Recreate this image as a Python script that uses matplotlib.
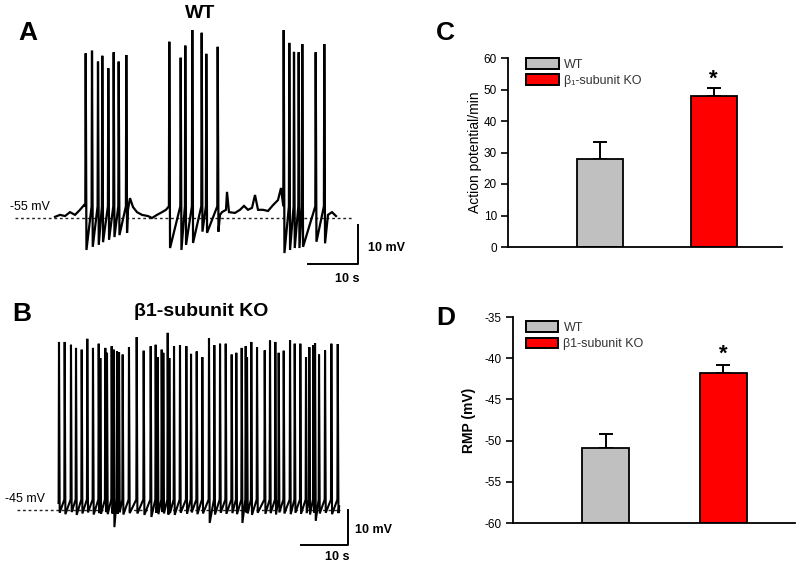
"""WT vs beta1-subunit KO: spontaneous firing traces + summary bars."""
import matplotlib
matplotlib.use("Agg")
import matplotlib.pyplot as plt
from matplotlib.patches import Patch

plt.rcParams["font.family"] = ["Liberation Sans", "DejaVu Sans"]
plt.rcParams["axes.unicode_minus"] = False

# ---- A: WT trace (s, mV) ----
wt_spike_t = [5.74, 7.0, 8.2, 9.06, 10.26, 11.34, 12.34, 13.86,
              22.46, 24.74, 25.66, 27.06, 28.94, 29.86, 32.14,
              45.34, 46.46, 47.4, 48.34, 49.06, 51.74, 53.46]
wt_spike_peak = [-12.8, -12.1, -14.9, -13.4, -16.6, -12.5, -14.9, -13.2,
                 -9.8, -13.9, -10.8, -6.8, -7.5, -12.9, -11.1,
                 -6.8, -10.1, -12.4, -12.5, -10.4, -12.5, -10.4]
wt_spike_trough = [-63.2, -62.4, -61.9, -61.2, -60.6, -59.9, -59.4, -58.8,
                   -62.7, -63.2, -61.9, -61.4, -58.5, -58.8, -58.5,
                   -64.0, -63.2, -62.7, -62.7, -62.4, -61.1, -61.5]
wt_threshold = -52.0
wt_base_t = [-0.4, 0.6, 1.6, 2.6, 3.6, 4.6, 5.4,
             14.2, 14.6, 15.2, 16.0, 17.0, 18.2, 19.0, 20.0, 21.0, 21.8,
             32.6, 33.0, 33.8, 34.0, 34.4, 35.6, 36.6, 37.4, 38.2, 39.0,
             39.6, 40.2, 41.2, 42.2, 43.2, 44.2, 44.8,
             54.2, 55.0, 55.8]
wt_base_v = [-54.7, -54.2, -54.5, -53.5, -54.2, -52.9, -51.7,
             -52.9, -49.9, -52.2, -53.5, -54.2, -54.5, -55.0, -54.2, -53.5, -52.9,
             -54.2, -53.5, -52.9, -48.3, -53.5, -53.7, -52.9, -51.9, -52.9, -52.4,
             -49.1, -52.9, -52.9, -53.2, -51.7, -50.4, -47.3,
             -54.2, -53.5, -54.5]

# ---- B: KO trace (s, mV) ----
ko_spike_t = [0.00, 1.21, 2.55, 3.62, 4.83, 6.02, 7.23, 8.45, 8.79, 9.85,
              10.21, 11.21, 11.64, 12.34, 12.77, 13.55, 14.89, 16.53, 18.02, 19.51,
              20.57, 21.00, 21.85, 22.19, 23.13, 23.47, 24.47, 25.74, 27.09, 28.09,
              29.30, 30.49, 31.91, 33.04, 34.26, 35.47, 36.74, 37.72, 38.87, 39.72,
              40.00, 40.91, 42.13, 43.77, 44.89, 46.02, 46.74, 47.81, 49.15, 50.15,
              51.34, 52.55, 53.26, 54.11, 54.47, 55.32, 56.60, 57.94, 59.30]
ko_spike_peak = [3.0, 3.0, 2.2, 1.3, 0.8, 3.9, 1.3, 2.5, -1.6, 1.3,
                 -0.1, 1.8, 0.8, 0.3, 0.1, -0.6, 1.5, 4.4, 0.5, 1.8,
                 2.2, -1.4, 0.8, -0.1, 5.6, -1.6, 1.8, 2.1, 1.8, -0.4,
                 0.3, -1.3, 4.1, 2.1, 2.5, 2.5, -0.6, -0.1, 1.3, 1.8,
                 -1.4, 3.0, 1.5, 0.6, 3.4, 3.0, -0.1, 0.5, 3.5, 2.5,
                 2.5, -1.3, 1.5, 2.1, 2.7, -0.6, 0.6, 2.5, 2.4]
ko_spike_trough = [-45.8, -46.2, -45.6, -46.4, -46.0, -45.7, -46.3, -45.9, -46.1, -45.6,
                   -46.2, -46.0, -49.9, -46.1, -45.7, -46.3, -45.9, -46.0, -46.4, -47.0,
                   -45.8, -46.2, -45.6, -46.0, -46.3, -45.9, -46.4, -45.8, -46.1, -45.7,
                   -46.2, -46.0, -48.7, -46.3, -45.8, -46.1, -45.9, -46.2, -48.7, -45.7,
                   -46.0, -46.4, -45.8, -46.1, -45.9, -46.3, -45.7, -46.0, -46.2, -45.8,
                   -46.1, -45.9, -46.3, -45.7, -48.1, -46.0, -45.8, -46.2, -45.9]
ko_threshold = -42.0
ko_base_t = [-0.1, 59.6]
ko_base_v = [-43.0, -44.0]

# ---- C / D: summary bars ----
groups = ["WT", "β\u2081-subunit KO"]
groups_d = ["WT", "β1-subunit KO"]
bar_colors = ["#c0c0c0", "#ff0000"]
ap_mean = [27.8, 47.8]
ap_sem = [5.6, 2.7]
rmp_mean = [-50.9, -41.8]
rmp_sem = [1.7, 1.0]

W, H = 800, 566
fig = plt.figure(figsize=(8, 5.66), dpi=100)


def build_trace(base_t, base_v, spk_t, spk_peak, spk_trough, thr):
    pts = list(zip(base_t, base_v))
    for t, p, tr in zip(spk_t, spk_peak, spk_trough):
        pts += [(t - 0.08, thr), (t, p), (t + 0.15, tr)]
    pts.sort()
    return [p[0] for p in pts], [p[1] for p in pts]


def trace_panel(rect, xlim, ylim, t, v, rest, dash_x, label_xy, bar, lw):
    ax = fig.add_axes(rect)
    ax.set_xlim(*xlim)
    ax.set_ylim(*ylim)
    ax.axis("off")
    ax.plot(dash_x, [rest, rest], ls=(0, (2, 2)), lw=1.0, color="#222222")
    ax.plot(t, v, color="black", lw=lw, solid_joinstyle="miter")
    ax.text(*label_xy, f"{rest} mV", fontsize=9, ha="left", va="center")
    bx0, bx1, by0, by1 = bar
    ax.plot([bx0, bx1, bx1], [by0, by0, by1], color="black", lw=1.4,
            clip_on=False)
    return ax


# A
t, v = build_trace(wt_base_t, wt_base_v, wt_spike_t, wt_spike_peak,
                   wt_spike_trough, wt_threshold)
axA = trace_panel([0, 1 - 280 / H, 420 / W, 280 / H], (-11.4, 72.6), (-70.9, 0.9),
                  t, v, -55, [-8.4, 59.0], (-9.4, -52.2), (50.2, 60.2, -66.8, -56.8), 1.6)
axA.text(62.2, -62.7, "10 mV", fontsize=9, fontweight="bold", va="center")
axA.text(58.0, -70.6, "10 s", fontsize=9, fontweight="bold", ha="center",
         va="center", clip_on=False)

# B
t, v = build_trace(ko_base_t, ko_base_v, ko_spike_t, ko_spike_peak,
                   ko_spike_trough, ko_threshold)
axB = trace_panel([0, 0, 420 / W, 286 / H], (-12.55, 76.8), (-61.0, 20.7),
                  t, v, -45, [-8.94, 59.8], (-11.5, -41.9), (51.5, 61.5, -55.0, -45.0), 1.5)
axB.text(63.0, -50.7, "10 mV", fontsize=9, fontweight="bold", va="center")
axB.text(59.1, -58.4, "10 s", fontsize=9, fontweight="bold", ha="center",
         va="center")

fig.text(28 / W, 1 - 33 / H, "A", fontsize=19, fontweight="bold", ha="center", va="center")
fig.text(200 / W, 1 - 14 / H, "WT", fontsize=14, fontweight="bold", ha="center", va="center")
fig.text(22 / W, 1 - 314 / H, "B", fontsize=19, fontweight="bold", ha="center", va="center")
fig.text(201 / W, 1 - 312 / H, "β1-subunit KO", fontsize=14, fontweight="bold",
         ha="center", va="center")
fig.text(445 / W, 1 - 33 / H, "C", fontsize=19, fontweight="bold", ha="center", va="center")
fig.text(446 / W, 1 - 318 / H, "D", fontsize=19, fontweight="bold", ha="center", va="center")


def bar_panel(rect, xlim, ylim, ticks, mean, sem, names, ylabel, ylab_weight,
              ylab_pad, legend_anchor, star_y):
    ax = fig.add_axes(rect)
    x = [1, 2]
    lo = ylim[0]
    ax.bar(x, [m - lo for m in mean], 0.4, bottom=lo, color=bar_colors,
           edgecolor="black", linewidth=1.3, zorder=2)
    ax.errorbar(x, mean, yerr=[[0, 0], sem], fmt="none", ecolor="black",
                elinewidth=1.4, capsize=5, capthick=1.4, zorder=1)
    ax.set_xlim(*xlim)
    ax.set_ylim(*ylim)
    ax.set_yticks(ticks)
    ax.set_xticks([])
    for s in ("top", "right"):
        ax.spines[s].set_visible(False)
    ax.spines["left"].set_linewidth(1.3)
    ax.spines["bottom"].set_linewidth(1.3)
    ax.tick_params(axis="y", direction="out", length=5, width=1.2,
                   labelsize=8.5, pad=3)
    ax.set_ylabel(ylabel, fontsize=10, fontweight=ylab_weight, labelpad=ylab_pad)
    ax.text(2, star_y, "*", fontsize=16, fontweight="bold", ha="center",
            va="center")
    handles = [Patch(facecolor=c, edgecolor="black", linewidth=1.4)
               for c in bar_colors]
    leg = ax.legend(handles, names, loc="upper left", bbox_to_anchor=legend_anchor,
                    frameon=False, fontsize=9, handlelength=2.6, handleheight=0.95,
                    handletextpad=0.4, labelspacing=0.3, borderpad=0,
                    borderaxespad=0)
    for txt in leg.get_texts():
        txt.set_color("#333333")
    return ax


bar_panel([508 / W, 1 - 247 / H, 274 / W, 189 / H], (0.19, 2.60), (0, 60),
          range(0, 61, 10), ap_mean, ap_sem, groups, "Action potential/min",
          "normal", 1, (0.066, 1.0), 53.2)
bar_panel([513 / W, 1 - 523 / H, 282 / W, 206 / H], (0.216, 2.606), (-60, -35),
          range(-60, -34, 5), rmp_mean, rmp_sem, groups_d, "RMP (mV)",
          "bold", 6, (0.046, 0.98), -39.5)

fig.savefig("out.png", dpi=100)
